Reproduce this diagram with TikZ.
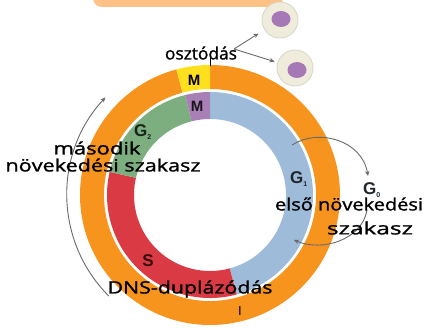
\documentclass[tikz,border=0pt]{standalone}
\usepackage{fontspec}
\setmainfont{Liberation Sans}
\newfontfamily\handfont[FakeBold=1.2]{Open Sans}
\usetikzlibrary{arrows.meta,calc,shapes.geometric}
\definecolor{ringorange}{HTML}{F7941D}
\definecolor{tabpeach}{HTML}{FFC286}
\definecolor{phaseyellow}{HTML}{FFE01F}
\definecolor{phasepurple}{HTML}{A980B6}
\definecolor{phasegreen}{HTML}{7DAE80}
\definecolor{phasered}{HTML}{D93A43}
\definecolor{phaseblue}{HTML}{9EBCD9}
\definecolor{cellcream}{HTML}{F0ECDC}
\definecolor{cellrim}{HTML}{D8D4C6}
\definecolor{nucleus}{HTML}{A679B6}
\definecolor{arrowgray}{HTML}{6A6A6A}
% annular sector: colour, start angle, end angle, inner radius, outer radius
\newcommand\annseg[5]{\fill[#1] ($(C)+(#2:#5)$) arc[start angle=#2,end angle=#3,radius=#5]
  -- ($(C)+(#3:#4)$) arc[start angle=#3,end angle=#2,radius=#4] -- cycle;}
\newcommand\handtext[2]{\resizebox{#1}{\height}{\handfont #2}}
\tikzset{
  phase/.style={font=\bfseries\fontsize{17}{17}\selectfont, inner sep=0pt},
  mlabel/.style={font=\bfseries\fontsize{15}{15}\selectfont, inner sep=0pt},
  hand/.style={font=\fontsize{17}{17}\selectfont, inner sep=0pt, text=black},
  flow/.style={draw=arrowgray, line width=0.9pt, -{Stealth[length=5pt,width=4.5pt]}},
  cell/.style={circle, fill=cellcream, draw=cellrim, line width=0.8pt, minimum size=36pt, inner sep=0pt},
  nuc/.style={ellipse, fill=nucleus, minimum width=19pt, minimum height=16pt, inner sep=0pt}
}
\begin{document}
\begin{tikzpicture}[x=1pt,y=-1pt]
\useasboundingbox (0,0) rectangle (433,328);
\fill[white] (0,0) rectangle (433,328);
% header tab
\fill[tabpeach, rounded corners=9pt] (93,-20) rectangle (283,7);
\coordinate (C) at (210,195);
% outer ring: interphase and mitosis
\annseg{ringorange}{-90}{255}{106}{130}
\annseg{phaseyellow}{255}{270}{106}{130}
% inner ring: G1, S, G2, M
\annseg{phaseblue}{-90}{75}{76}{103}
\annseg{phasered}{75}{193}{76}{103}
\annseg{phasegreen}{193}{256}{76}{103}
\annseg{phasepurple}{256}{270}{76}{103}
% phase letters
\node[mlabel] (mOut) at (194,80) {M};
\node[mlabel, text=black!85!phasepurple] (mIn) at (197,106) {M};
\node[phase, text=black!80!phasegreen] (g2) at (143,132) {G\textsubscript{\scriptsize 2}};
\node[phase, text=black!80!phaseblue] (g1) at (299,179) {G\textsubscript{\scriptsize 1}};
\node[phase, text=black!80!phaseblue] (g0) at (372,190) {G\textsubscript{\scriptsize 0}};
\node[phase, text=black!75!phasered] (s) at (148,261) {S};
\node[phase, font=\fontsize{13}{13}\selectfont] (i) at (240,311) {I};
% daughter cells
\node[cell] (cellA) at (280,20) {};
\node[nuc] (nucA) at (281,19) {};
\node[cell] (cellB) at (295,68) {};
\node[nuc] (nucB) at (297,70) {};
% cycle direction arc on the left
\coordinate (arcStart) at ($(C)+(135:143)$);
\draw[flow] (arcStart) arc[start angle=135, end angle=223, radius=143] coordinate (arcEnd);
% G1 <-> G0 exchange
\coordinate (gOut) at (292,145);
\coordinate (gIn) at (368,176);
\coordinate (gBack) at (367,210);
\coordinate (gRet) at (294,240);
\draw[flow] (gOut) .. controls (318,128) and (362,140) .. (gIn);
\draw[flow] (gBack) .. controls (362,240) and (322,252) .. (gRet);
% division into two cells
\coordinate (split) at (234,49);
\draw[flow, shorten >=7pt] (split) -- (cellA);
\draw[flow, shorten >=3pt] (split) -- (cellB);
% handwritten notes
\node[hand] (osz) at (201,53) {\handtext{72pt}{osztódás}};
\coordinate (mTop) at (210,66);
\draw[black, line width=0.9pt] (210,58) -- (mTop);
\node[hand] (masodik) at (97,148) {\handtext{87pt}{második}};
\node[hand] (nov2) at (103,165) {\handtext{195pt}{növekedési szakasz}};
\node[hand] (nov1) at (349,204) {\handtext{148pt}{első növekedési}};
\node[hand] (szak1) at (370,228) {\handtext{86pt}{szakasz}};
\node[hand] (dns) at (190,289) {\handtext{165pt}{DNS-duplázódás}};
\end{tikzpicture}
\end{document}
